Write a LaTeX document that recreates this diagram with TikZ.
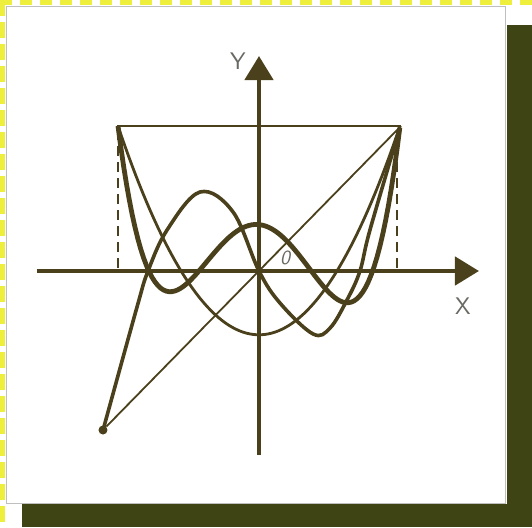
\documentclass[tikz,border=0pt]{standalone}
\usepackage{tikz}
\usetikzlibrary{positioning, calc, arrows.meta}

\definecolor{ink}{RGB}{74,64,28}
\definecolor{labelgray}{RGB}{105,105,100}
\definecolor{mossgreen}{RGB}{62,68,20}
\definecolor{pageyellow}{RGB}{238,238,60}

\begin{document}
\begin{tikzpicture}[
  x=0.5pt, y=-0.5pt,
  every node/.style={font=\sffamily\large, text=labelgray},
  axis/.style={ink, line width=2.3pt, -{Triangle[length=12pt, width=14pt]}},
  frame/.style={ink, line width=0.9pt},
  guide/.style={ink, line width=0.8pt, dash pattern=on 5pt off 3pt},
  pone/.style={ink, line width=0.9pt},
  ptwo/.style={ink, line width=1.4pt},
  pthree/.style={ink, line width=1.8pt},
  pfour/.style={ink, line width=2.4pt},
  dot/.style={circle, fill=ink, inner sep=0pt, minimum size=4.5pt},
]
\useasboundingbox (0,0) rectangle (532,527);

% Page and surrounding scan edges
\fill[white] (0,0) rectangle (532,527);
\draw[pageyellow, line width=3pt, dash pattern=on 6pt off 4pt] (0,2) -- (532,2);
\draw[pageyellow, line width=3pt, dash pattern=on 8pt off 3pt] (2,0) -- (2,527);
\fill[mossgreen] (507,25) rectangle (532,527);
\fill[mossgreen] (22,504) rectangle (532,527);
\draw[black!25, line width=0.4pt] (6,6) rectangle (505,503);

% Named points
\coordinate (O)  at (259,271);
\coordinate (TL) at (117,126);
\coordinate (TR) at (401,126);
\node[dot] (BL) at (103,430) {};

% Bounding box of the curves
\draw[frame] (TL) -- (TR);
\draw[guide] (118,130) -- (118,268);
\draw[guide] (397,130) -- (397,268);

% Axes
\coordinate (xl) at (37,271);
\coordinate (xr) at (479,271);
\coordinate (yb) at (259,455);
\coordinate (yt) at (259,56);
\draw[axis] (xl) -- (xr);
\draw[axis] (yb) -- (yt);
\node (ylab) at (238,61) {Y};
\node (xlab) at (463,306) {X};
\node[font=\sffamily\itshape\normalsize] (olab) at (285,258) {0};

% Curves, in units of the half box
\begin{scope}[shift={(259,271)}, x=70.5pt, y=72.5pt]
  \draw[pone] (BL) -- (TR);
  \draw[ptwo] plot[domain=-1:1, samples=80] (\x, {1.44*\x*\x-0.44});
  \draw[pthree] plot[smooth, tension=0.6] coordinates {
    (-1.106,-1.097) (-0.865,-0.248) (-0.787,0) (-0.652,0.283)
    (-0.418,0.545) (-0.184,0.407) (0,0) (0.149,-0.221)
    (0.383,-0.434) (0.504,-0.393) (0.624,-0.2) (0.716,0)
    (0.787,0.283) (1,0.99)};
  \draw[pfour] plot[domain=-1:1, samples=100]
    (\x, {3.22*\x*\x*\x*\x - 2.54*\x*\x + 0.32 + 0.1*(\x*\x*\x - \x)});
\end{scope}
\end{tikzpicture}
\end{document}
